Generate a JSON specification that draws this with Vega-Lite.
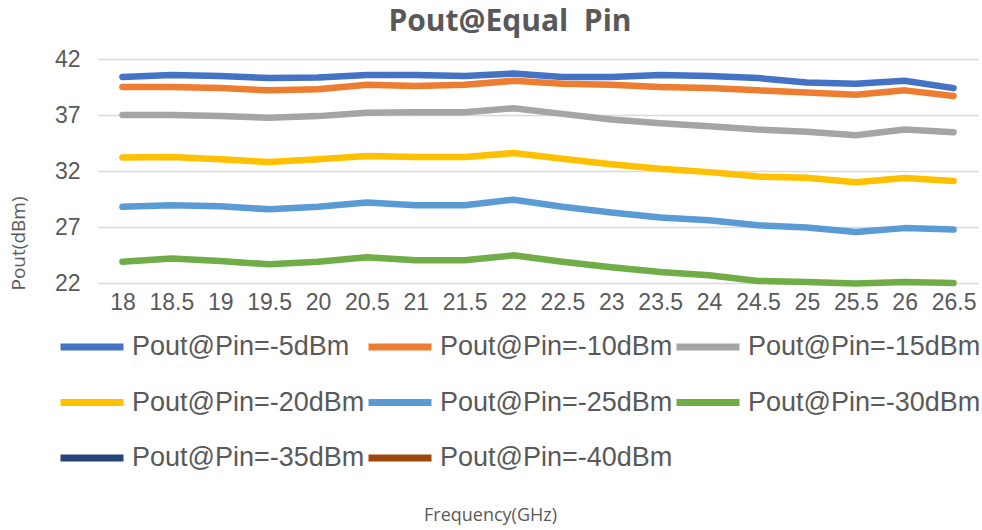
{
  "$schema": "https://vega.github.io/schema/vega-lite/v6.json",
  "autosize": "none",
  "width": 880,
  "height": 224,
  "padding": {"left": 98, "top": 59, "right": 4, "bottom": 247},
  "background": "white",
  "title": {
    "text": "Pout@Equal\u00a0\u00a0Pin",
    "font": "Open Sans",
    "fontSize": 30,
    "fontWeight": "bold",
    "color": "#595959",
    "anchor": "middle",
    "dx": -28,
    "offset": -13,
    "baseline": "alphabetic"
  },
  "config": {
    "view": {"stroke": null},
    "axis": {"labelColor": "#595959", "titleColor": "#595959"}
  },
  "data": {
    "values": [
      {"f": 18, "s": "Pout@Pin=-5dBm", "v": 40.4},
      {"f": 18.5, "s": "Pout@Pin=-5dBm", "v": 40.57},
      {"f": 19, "s": "Pout@Pin=-5dBm", "v": 40.48},
      {"f": 19.5, "s": "Pout@Pin=-5dBm", "v": 40.3},
      {"f": 20, "s": "Pout@Pin=-5dBm", "v": 40.35},
      {"f": 20.5, "s": "Pout@Pin=-5dBm", "v": 40.57},
      {"f": 21, "s": "Pout@Pin=-5dBm", "v": 40.57},
      {"f": 21.5, "s": "Pout@Pin=-5dBm", "v": 40.48},
      {"f": 22, "s": "Pout@Pin=-5dBm", "v": 40.7},
      {"f": 22.5, "s": "Pout@Pin=-5dBm", "v": 40.4},
      {"f": 23, "s": "Pout@Pin=-5dBm", "v": 40.4},
      {"f": 23.5, "s": "Pout@Pin=-5dBm", "v": 40.57},
      {"f": 24, "s": "Pout@Pin=-5dBm", "v": 40.48},
      {"f": 24.5, "s": "Pout@Pin=-5dBm", "v": 40.3},
      {"f": 25, "s": "Pout@Pin=-5dBm", "v": 39.9},
      {"f": 25.5, "s": "Pout@Pin=-5dBm", "v": 39.8},
      {"f": 26, "s": "Pout@Pin=-5dBm", "v": 40.06},
      {"f": 26.5, "s": "Pout@Pin=-5dBm", "v": 39.4},
      {"f": 18, "s": "Pout@Pin=-10dBm", "v": 39.5},
      {"f": 18.5, "s": "Pout@Pin=-10dBm", "v": 39.5},
      {"f": 19, "s": "Pout@Pin=-10dBm", "v": 39.4},
      {"f": 19.5, "s": "Pout@Pin=-10dBm", "v": 39.2},
      {"f": 20, "s": "Pout@Pin=-10dBm", "v": 39.3},
      {"f": 20.5, "s": "Pout@Pin=-10dBm", "v": 39.7},
      {"f": 21, "s": "Pout@Pin=-10dBm", "v": 39.6},
      {"f": 21.5, "s": "Pout@Pin=-10dBm", "v": 39.7},
      {"f": 22, "s": "Pout@Pin=-10dBm", "v": 40.05},
      {"f": 22.5, "s": "Pout@Pin=-10dBm", "v": 39.8},
      {"f": 23, "s": "Pout@Pin=-10dBm", "v": 39.7},
      {"f": 23.5, "s": "Pout@Pin=-10dBm", "v": 39.5},
      {"f": 24, "s": "Pout@Pin=-10dBm", "v": 39.4},
      {"f": 24.5, "s": "Pout@Pin=-10dBm", "v": 39.2},
      {"f": 25, "s": "Pout@Pin=-10dBm", "v": 39.0},
      {"f": 25.5, "s": "Pout@Pin=-10dBm", "v": 38.8},
      {"f": 26, "s": "Pout@Pin=-10dBm", "v": 39.2},
      {"f": 26.5, "s": "Pout@Pin=-10dBm", "v": 38.7},
      {"f": 18, "s": "Pout@Pin=-15dBm", "v": 37.0},
      {"f": 18.5, "s": "Pout@Pin=-15dBm", "v": 37.0},
      {"f": 19, "s": "Pout@Pin=-15dBm", "v": 36.9},
      {"f": 19.5, "s": "Pout@Pin=-15dBm", "v": 36.76},
      {"f": 20, "s": "Pout@Pin=-15dBm", "v": 36.9},
      {"f": 20.5, "s": "Pout@Pin=-15dBm", "v": 37.2},
      {"f": 21, "s": "Pout@Pin=-15dBm", "v": 37.25},
      {"f": 21.5, "s": "Pout@Pin=-15dBm", "v": 37.25},
      {"f": 22, "s": "Pout@Pin=-15dBm", "v": 37.6},
      {"f": 22.5, "s": "Pout@Pin=-15dBm", "v": 37.1},
      {"f": 23, "s": "Pout@Pin=-15dBm", "v": 36.6},
      {"f": 23.5, "s": "Pout@Pin=-15dBm", "v": 36.26},
      {"f": 24, "s": "Pout@Pin=-15dBm", "v": 36.0},
      {"f": 24.5, "s": "Pout@Pin=-15dBm", "v": 35.7},
      {"f": 25, "s": "Pout@Pin=-15dBm", "v": 35.5},
      {"f": 25.5, "s": "Pout@Pin=-15dBm", "v": 35.2},
      {"f": 26, "s": "Pout@Pin=-15dBm", "v": 35.7},
      {"f": 26.5, "s": "Pout@Pin=-15dBm", "v": 35.45},
      {"f": 18, "s": "Pout@Pin=-20dBm", "v": 33.2},
      {"f": 18.5, "s": "Pout@Pin=-20dBm", "v": 33.25},
      {"f": 19, "s": "Pout@Pin=-20dBm", "v": 33.04},
      {"f": 19.5, "s": "Pout@Pin=-20dBm", "v": 32.8},
      {"f": 20, "s": "Pout@Pin=-20dBm", "v": 33.04},
      {"f": 20.5, "s": "Pout@Pin=-20dBm", "v": 33.34},
      {"f": 21, "s": "Pout@Pin=-20dBm", "v": 33.25},
      {"f": 21.5, "s": "Pout@Pin=-20dBm", "v": 33.25},
      {"f": 22, "s": "Pout@Pin=-20dBm", "v": 33.6},
      {"f": 22.5, "s": "Pout@Pin=-20dBm", "v": 33.1},
      {"f": 23, "s": "Pout@Pin=-20dBm", "v": 32.6},
      {"f": 23.5, "s": "Pout@Pin=-20dBm", "v": 32.2},
      {"f": 24, "s": "Pout@Pin=-20dBm", "v": 31.9},
      {"f": 24.5, "s": "Pout@Pin=-20dBm", "v": 31.5},
      {"f": 25, "s": "Pout@Pin=-20dBm", "v": 31.4},
      {"f": 25.5, "s": "Pout@Pin=-20dBm", "v": 31.0},
      {"f": 26, "s": "Pout@Pin=-20dBm", "v": 31.37},
      {"f": 26.5, "s": "Pout@Pin=-20dBm", "v": 31.1},
      {"f": 18, "s": "Pout@Pin=-25dBm", "v": 28.8},
      {"f": 18.5, "s": "Pout@Pin=-25dBm", "v": 28.94},
      {"f": 19, "s": "Pout@Pin=-25dBm", "v": 28.85},
      {"f": 19.5, "s": "Pout@Pin=-25dBm", "v": 28.58},
      {"f": 20, "s": "Pout@Pin=-25dBm", "v": 28.8},
      {"f": 20.5, "s": "Pout@Pin=-25dBm", "v": 29.18},
      {"f": 21, "s": "Pout@Pin=-25dBm", "v": 28.94},
      {"f": 21.5, "s": "Pout@Pin=-25dBm", "v": 28.94},
      {"f": 22, "s": "Pout@Pin=-25dBm", "v": 29.44},
      {"f": 22.5, "s": "Pout@Pin=-25dBm", "v": 28.8},
      {"f": 23, "s": "Pout@Pin=-25dBm", "v": 28.3},
      {"f": 23.5, "s": "Pout@Pin=-25dBm", "v": 27.84},
      {"f": 24, "s": "Pout@Pin=-25dBm", "v": 27.6},
      {"f": 24.5, "s": "Pout@Pin=-25dBm", "v": 27.15},
      {"f": 25, "s": "Pout@Pin=-25dBm", "v": 26.95},
      {"f": 25.5, "s": "Pout@Pin=-25dBm", "v": 26.56},
      {"f": 26, "s": "Pout@Pin=-25dBm", "v": 26.9},
      {"f": 26.5, "s": "Pout@Pin=-25dBm", "v": 26.77},
      {"f": 18, "s": "Pout@Pin=-30dBm", "v": 23.9},
      {"f": 18.5, "s": "Pout@Pin=-30dBm", "v": 24.18},
      {"f": 19, "s": "Pout@Pin=-30dBm", "v": 23.96},
      {"f": 19.5, "s": "Pout@Pin=-30dBm", "v": 23.67},
      {"f": 20, "s": "Pout@Pin=-30dBm", "v": 23.9},
      {"f": 20.5, "s": "Pout@Pin=-30dBm", "v": 24.3},
      {"f": 21, "s": "Pout@Pin=-30dBm", "v": 24.03},
      {"f": 21.5, "s": "Pout@Pin=-30dBm", "v": 24.03},
      {"f": 22, "s": "Pout@Pin=-30dBm", "v": 24.47},
      {"f": 22.5, "s": "Pout@Pin=-30dBm", "v": 23.9},
      {"f": 23, "s": "Pout@Pin=-30dBm", "v": 23.4},
      {"f": 23.5, "s": "Pout@Pin=-30dBm", "v": 22.98},
      {"f": 24, "s": "Pout@Pin=-30dBm", "v": 22.7},
      {"f": 24.5, "s": "Pout@Pin=-30dBm", "v": 22.18},
      {"f": 25, "s": "Pout@Pin=-30dBm", "v": 22.1},
      {"f": 25.5, "s": "Pout@Pin=-30dBm", "v": 21.95},
      {"f": 26, "s": "Pout@Pin=-30dBm", "v": 22.1},
      {"f": 26.5, "s": "Pout@Pin=-30dBm", "v": 22.0}
    ]
  },
  "mark": {"type": "line", "strokeWidth": 6.5, "strokeCap": "round", "strokeJoin": "round", "clip": false},
  "encoding": {
    "x": {
      "field": "f",
      "type": "ordinal",
      "sort": "ascending",
      "scale": {"type": "point", "padding": 0.5},
      "axis": {
        "title": "Frequency(GHz)",
        "titleFont": "Open Sans",
        "titleFontSize": 18,
        "titleFontWeight": "normal",
        "titleX": 392,
        "titleY": 232,
        "titleBaseline": "middle",
        "labelAngle": 0,
        "labelFont": "Liberation Sans",
        "labelFontSize": 23,
        "labelPadding": 8,
        "labelOverlap": false,
        "ticks": false,
        "tickSize": 0,
        "domain": false,
        "grid": false
      }
    },
    "y": {
      "field": "v",
      "type": "quantitative",
      "scale": {"domain": [22, 42], "nice": false, "zero": false},
      "axis": {
        "title": "Pout(dBm)",
        "titleFont": "Open Sans",
        "titleFontSize": 19,
        "titleFontWeight": "normal",
        "titleX": -80,
        "titleY": 184,
        "titleAngle": -90,
        "titleBaseline": "middle",
        "titleAlign": "center",
        "values": [22, 27, 32, 37, 42],
        "labelFont": "Liberation Sans",
        "labelFontSize": 23,
        "labelPadding": 18,
        "ticks": false,
        "tickSize": 0,
        "domain": false,
        "grid": true,
        "gridColor": "#D9D9D9",
        "gridWidth": 1.5
      }
    },
    "color": {
      "field": "s",
      "type": "nominal",
      "scale": {
        "domain": ["Pout@Pin=-5dBm", "Pout@Pin=-10dBm", "Pout@Pin=-15dBm", "Pout@Pin=-20dBm", "Pout@Pin=-25dBm", "Pout@Pin=-30dBm", "Pout@Pin=-35dBm", "Pout@Pin=-40dBm"],
        "range": ["#4472C4", "#ED7D31", "#A5A5A5", "#FFC000", "#5B9BD5", "#70AD47", "#264478", "#9E480E"]
      },
      "legend": {
        "title": null,
        "orient": "none",
        "legendX": -41,
        "legendY": 253,
        "direction": "horizontal",
        "columns": 3,
        "symbolType": "stroke",
        "symbolSize": 3969,
        "symbolStrokeWidth": 7,
        "labelFont": "Liberation Sans",
        "labelFontSize": 27,
        "labelColor": "#595959",
        "labelLimit": 400,
        "labelOffset": 5,
        "columnPadding": -19,
        "rowPadding": 6.5
      }
    }
  }
}
